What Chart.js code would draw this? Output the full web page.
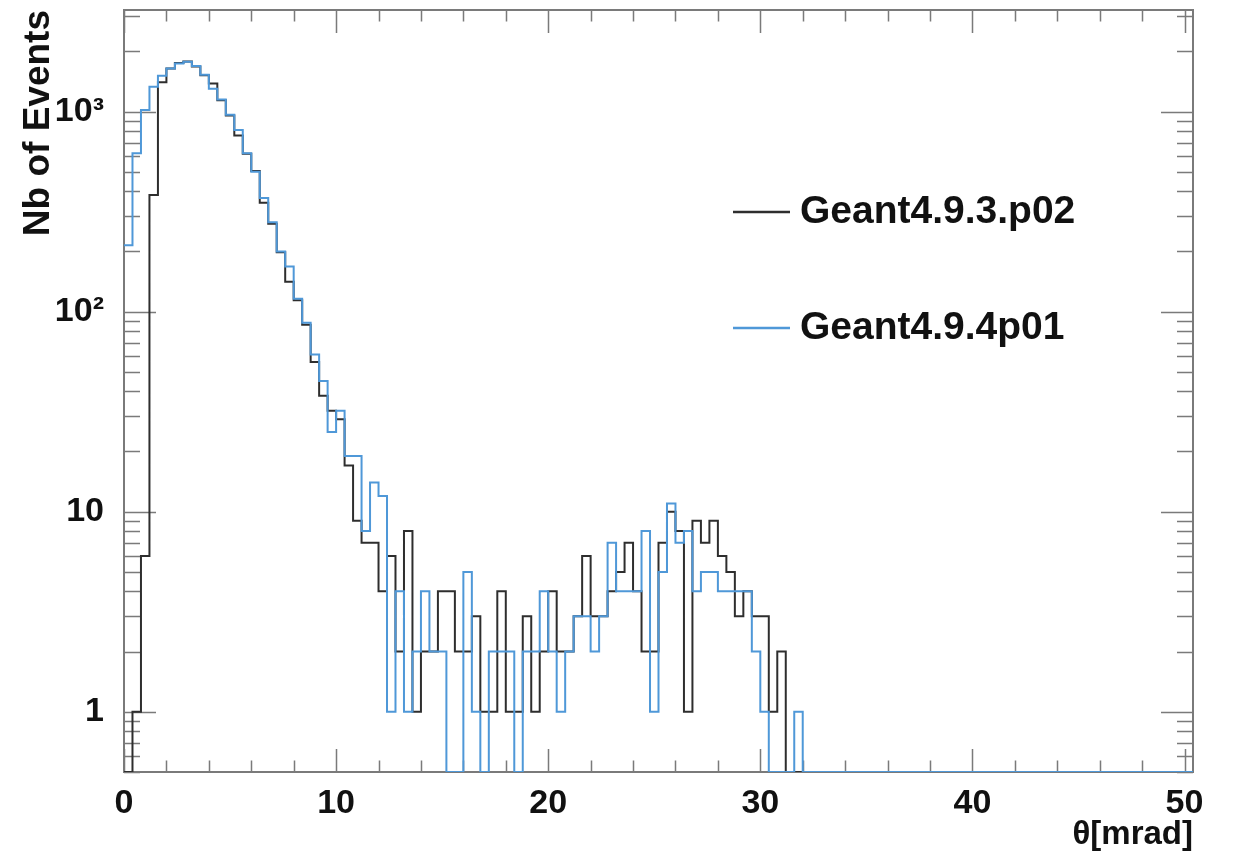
<!DOCTYPE html>
<html>
<head>
<meta charset="utf-8">
<title>Nb of Events</title>
<script src="https://cdn.jsdelivr.net/npm/chart.js@4.4.1/dist/chart.umd.min.js"></script>
<style>
  html, body { margin: 0; padding: 0; background: #fff; }
</style>
</head>
<body>
<canvas id="theta-chart" width="1234" height="857"></canvas>
<script>
// histogram binning (mrad) and axis range
var BIN_WIDTH = 0.4;
var X_MAX = 50.4;
var Y_MIN = 0.5;
var Y_MAX = 3220;

var xTicks = [0, 10, 20, 30, 40, 50];
var yTicks = [1, 10, 100, 1000];
var yTickLabels = ['1', '10', '10²', '10³'];

var seriesNames = ['Geant4.9.3.p02', 'Geant4.9.4p01'];
var seriesColors = ['#2e2e2e', '#4f98d8'];

// events per 0.4 mrad bin, first bin starts at 0
var g4_9_3 = [
  0, 1, 6, 383, 1400, 1640, 1750, 1780, 1680, 1520,
  1380, 1140, 955, 760, 615, 505, 350, 275, 198, 141,
  114, 86, 56, 38, 32, 29, 17, 9, 7, 7,
  4, 6, 2, 8, 1, 2, 2, 4, 4, 2,
  2, 3, 1, 1, 4, 1, 1, 3, 1, 2,
  4, 2, 2, 3, 6, 3, 3, 4, 5, 7,
  4, 2, 2, 7, 10, 8, 1, 9, 7, 9,
  6, 5, 3, 4, 3, 3, 1, 2, 0, 0,
  0, 0, 0, 0, 0, 0, 0, 0, 0, 0,
  0, 0, 0, 0, 0, 0, 0, 0, 0, 0,
  0, 0, 0, 0, 0, 0, 0, 0, 0, 0,
  0, 0, 0, 0, 0, 0, 0, 0, 0, 0,
  0, 0, 0, 0, 0, 0
];
var g4_9_4 = [
  215, 620, 1020, 1330, 1510, 1640, 1740, 1775, 1690, 1530,
  1300, 1150, 965, 810, 620, 500, 370, 280, 200, 168,
  116, 88, 61, 45, 25, 32, 19, 19, 8, 14,
  12, 1, 4, 1, 2, 4, 2, 2, 0, 0,
  5, 1, 0, 2, 2, 2, 0, 2, 2, 4,
  2, 1, 2, 3, 3, 2, 3, 7, 4, 4,
  4, 8, 1, 5, 11, 7, 8, 4, 5, 5,
  4, 4, 4, 4, 2, 1, 0, 0, 0, 1,
  0, 0, 0, 0, 0, 0, 0, 0, 0, 0,
  0, 0, 0, 0, 0, 0, 0, 0, 0, 0,
  0, 0, 0, 0, 0, 0, 0, 0, 0, 0,
  0, 0, 0, 0, 0, 0, 0, 0, 0, 0,
  0, 0, 0, 0, 0, 0
];

// one point per bin low edge plus the closing edge; empty bins sit on the floor
function histPoints(counts) {
  var pts = [];
  for (var i = 0; i < counts.length; i++) {
    pts.push({x: i * BIN_WIDTH, y: counts[i] > 0 ? counts[i] : Y_MIN});
  }
  pts.push({x: counts.length * BIN_WIDTH, y: pts[pts.length - 1].y});
  return pts;
}

var FONT = "'Liberation Sans', Arial, Helvetica, sans-serif";
var AXIS_GREY = '#7a7a7a';

// ROOT style frame with inward ticks on all four sides
var frameTicks = {
  id: 'frameTicks',
  beforeDatasetsDraw: function(chart) {
    var ctx = chart.ctx, a = chart.chartArea;
    var xs = chart.scales.x, ys = chart.scales.y;
    ctx.save();
    ctx.strokeStyle = AXIS_GREY;
    ctx.lineWidth = 1.5;
    ctx.beginPath();
    for (var v = 0; v <= 50; v += 2) {
      var px = Math.round(xs.getPixelForValue(v)) + 0.5;
      var len = (v % 10 === 0) ? 23 : 11.5;
      ctx.moveTo(px, a.bottom); ctx.lineTo(px, a.bottom - len);
      ctx.moveTo(px, a.top); ctx.lineTo(px, a.top + len);
    }
    for (var k = -1; k <= 3; k++) {
      for (var m = 1; m <= 9; m++) {
        var val = m * Math.pow(10, k);
        if (val < Y_MIN || val > Y_MAX) continue;
        var py = Math.round(ys.getPixelForValue(val)) + 0.5;
        var l = (m === 1) ? 32 : 16;
        ctx.moveTo(a.left, py); ctx.lineTo(a.left + l, py);
        ctx.moveTo(a.right, py); ctx.lineTo(a.right - l, py);
      }
    }
    ctx.stroke();
    ctx.lineWidth = 2;
    ctx.strokeRect(a.left, a.top, a.right - a.left, a.bottom - a.top);
    ctx.restore();
  }
};

// legend inside the frame, one row per dataset
var frameLegend = {
  id: 'frameLegend',
  afterDraw: function(chart, args, opts) {
    var ctx = chart.ctx;
    ctx.save();
    ctx.font = 'bold ' + opts.fontSize + 'px ' + FONT;
    ctx.textBaseline = 'middle';
    ctx.textAlign = 'left';
    chart.data.datasets.forEach(function(ds, i) {
      var y = opts.rows[i];
      ctx.strokeStyle = ds.borderColor;
      ctx.lineWidth = 2.5;
      ctx.beginPath();
      ctx.moveTo(opts.lineX0, y); ctx.lineTo(opts.lineX1, y);
      ctx.stroke();
      ctx.fillStyle = '#111';
      ctx.fillText(ds.label, opts.textX, y);
    });
    ctx.restore();
  }
};

new Chart(document.getElementById('theta-chart'), {
  type: 'line',
  data: {
    datasets: [{
      label: seriesNames[0],
      data: histPoints(g4_9_3),
      borderColor: seriesColors[0],
      borderWidth: 2,
      order: 2
    }, {
      label: seriesNames[1],
      data: histPoints(g4_9_4),
      borderColor: seriesColors[1],
      borderWidth: 2,
      order: 1
    }]
  },
  options: {
    responsive: false,
    devicePixelRatio: 1,
    animation: false,
    events: [],
    elements: {
      line: { stepped: 'before', tension: 0, fill: false },
      point: { radius: 0 }
    },
    layout: { padding: { left: 0, right: 41, top: 10, bottom: 0 } },
    plugins: {
      legend: { display: false },
      tooltip: { enabled: false },
      frameLegend: { lineX0: 733, lineX1: 790, textX: 800, rows: [212, 328], fontSize: 39 }
    },
    scales: {
      x: {
        type: 'linear',
        min: 0,
        max: X_MAX,
        grid: { display: false, drawTicks: false, tickLength: 0 },
        border: { display: false },
        afterBuildTicks: function(scale) {
          scale.ticks = xTicks.map(function(v) { return {value: v}; });
        },
        afterFit: function(scale) {
          scale.height = 85;
          scale.paddingLeft = 0;
          scale.paddingRight = 0;
        },
        ticks: {
          maxRotation: 0,
          autoSkip: false,
          padding: 11,
          color: '#111',
          font: { family: FONT, size: 34, weight: 'bold' }
        },
        title: {
          display: true,
          text: 'θ[mrad]',
          align: 'end',
          color: '#111',
          padding: { top: 0, bottom: 2 },
          font: { family: FONT, size: 33, weight: 'bold', lineHeight: 1.2 }
        }
      },
      y: {
        type: 'logarithmic',
        min: Y_MIN,
        max: Y_MAX,
        grid: { display: false, drawTicks: false, tickLength: 0 },
        border: { display: false },
        afterBuildTicks: function(scale) {
          scale.ticks = yTicks.map(function(v) { return {value: v}; });
        },
        afterFit: function(scale) {
          scale.width = 124;
          scale.paddingTop = 0;
          scale.paddingBottom = 0;
        },
        ticks: {
          padding: 20,
          color: '#111',
          font: { family: FONT, size: 34, weight: 'bold' },
          callback: function(value) {
            var idx = yTicks.indexOf(value);
            return idx >= 0 ? yTickLabels[idx] : '';
          }
        },
        title: {
          display: true,
          text: 'Nb of Events',
          align: 'end',
          color: '#111',
          padding: { top: 20, bottom: 0 },
          font: { family: FONT, size: 37, weight: 'bold', lineHeight: 1 }
        }
      }
    }
  },
  plugins: [frameTicks, frameLegend]
});
</script>
</body>
</html>
